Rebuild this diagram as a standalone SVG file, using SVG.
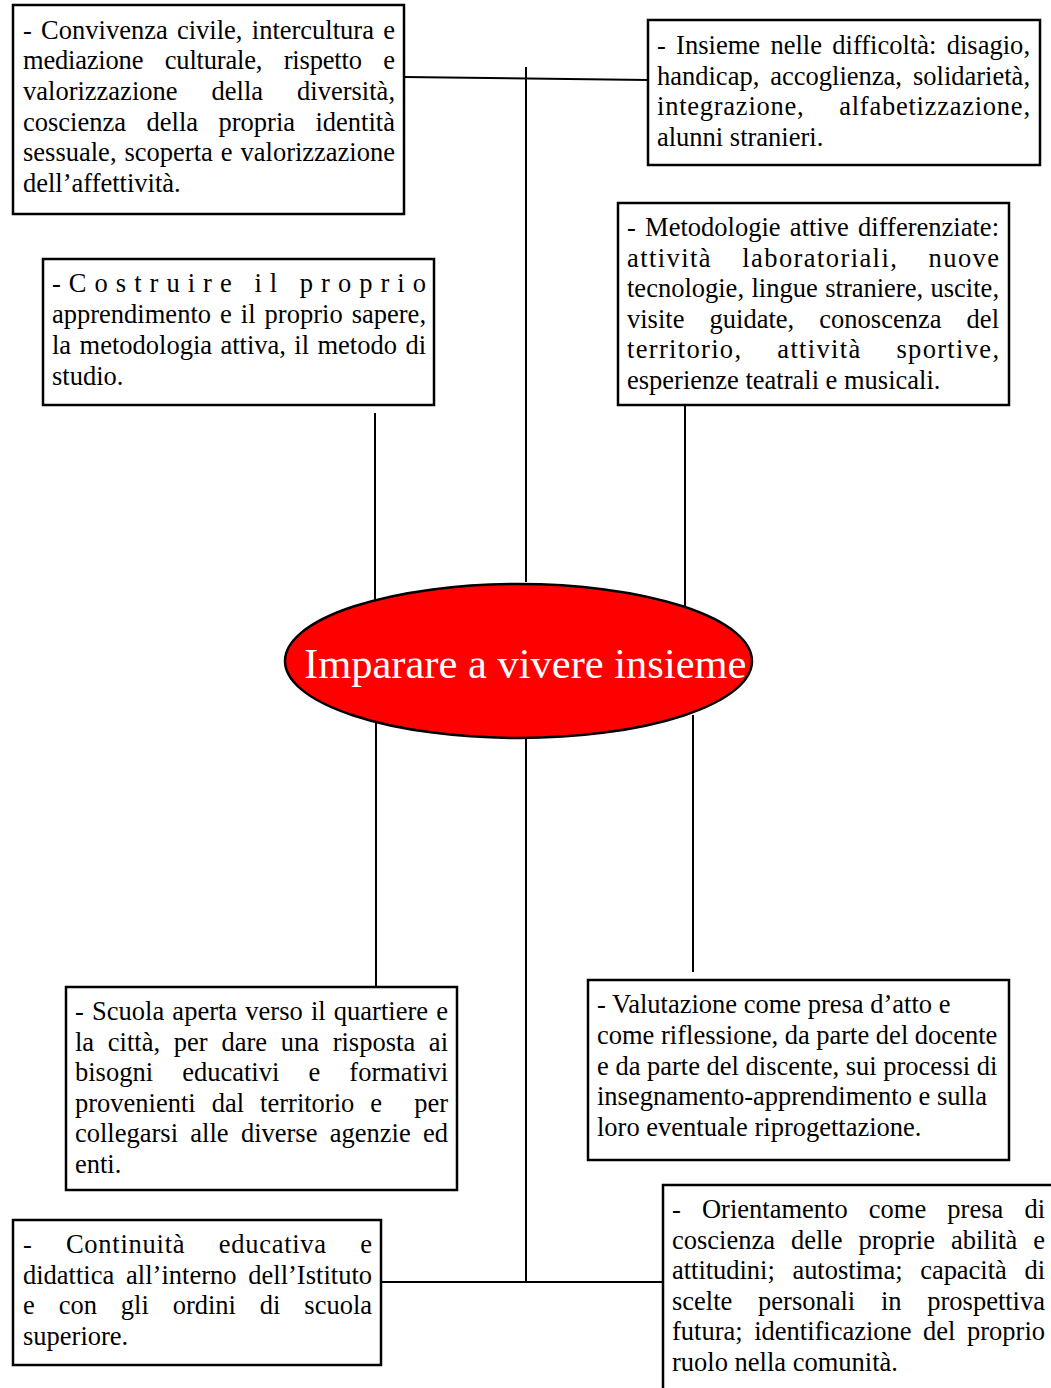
<svg xmlns="http://www.w3.org/2000/svg" width="1051" height="1388" viewBox="0 0 1051 1388">
<style>
.box{fill:#fff;stroke:#000;stroke-width:2.5}
.t{font-family:"Liberation Serif","Times New Roman",serif;font-size:26.5px;fill:#000}
.c{stroke:#000;stroke-width:2;fill:none}
.e{text-anchor:end}
</style>
<rect width="1051" height="1388" fill="#fff"/>
<g id="connectors">
<line class="c" x1="526" y1="67" x2="526" y2="582"/>
<line class="c" x1="404" y1="77" x2="648" y2="80"/>
<line class="c" x1="375" y1="413" x2="375" y2="602"/>
<line class="c" x1="685" y1="405" x2="685" y2="610"/>
<line class="c" x1="376" y1="715" x2="376" y2="987"/>
<line class="c" x1="526" y1="736" x2="526" y2="1282"/>
<line class="c" x1="693" y1="715" x2="693" y2="972"/>
<line class="c" x1="381" y1="1282" x2="663" y2="1282"/>
</g>
<g id="n-convivenza">
<rect class="box" x="13" y="5" width="391" height="209"/>
<text class="t" x="23" y="38.5" style="word-spacing:2.65px" textLength="372" lengthAdjust="spacing">- Convivenza civile, intercultura e</text>
<text class="t" x="23" y="69.2" style="word-spacing:15.1px" textLength="372" lengthAdjust="spacing">mediazione culturale, rispetto e</text>
<text class="t" x="23" y="99.9" style="word-spacing:27.4px" textLength="372" lengthAdjust="spacing">valorizzazione della diversità,</text>
<text class="t" x="23" y="130.6" style="word-spacing:13.8px" textLength="372" lengthAdjust="spacing">coscienza della propria identità</text>
<text class="t" x="23" y="161.3" style="word-spacing:1.35px" textLength="372" lengthAdjust="spacing">sessuale, scoperta e valorizzazione</text>
<text class="t" x="23" y="192">dell’affettività.</text>
</g>
<g id="n-insieme">
<rect class="box" x="648" y="20" width="392" height="145"/>
<text class="t" x="657" y="54" style="word-spacing:3.65px" textLength="373" lengthAdjust="spacing">- Insieme nelle difficoltà: disagio,</text>
<text class="t" x="657" y="84.7" style="word-spacing:4.4px" textLength="373" lengthAdjust="spacing">handicap, accoglienza, solidarietà,</text>
<text class="t" x="657" y="115.4" style="word-spacing:27.4px" textLength="373" lengthAdjust="spacing">integrazione, alfabetizzazione,</text>
<text class="t" x="657" y="146">alunni stranieri.</text>
</g>
<g id="n-costruire">
<rect class="box" x="43" y="259" width="391" height="146"/>
<text class="t" x="52" y="292" textLength="374" lengthAdjust="spacing">-Costruire il proprio</text>
<text class="t" x="52" y="323" style="word-spacing:2.4px" textLength="374" lengthAdjust="spacing">apprendimento e il proprio sapere,</text>
<text class="t" x="52" y="354" style="word-spacing:1.77px" textLength="374" lengthAdjust="spacing">la metodologia attiva, il metodo di</text>
<text class="t" x="52" y="385">studio.</text>
</g>
<g id="n-metodologie">
<rect class="box" x="618" y="203" width="391" height="202"/>
<text class="t" x="627" y="236" style="word-spacing:2.57px" textLength="372" lengthAdjust="spacing">- Metodologie attive differenziate:</text>
<text class="t" x="627" y="266.6" style="word-spacing:22.4px" textLength="372" lengthAdjust="spacing">attività laboratoriali, nuove</text>
<text class="t" x="627" y="297.2" style="word-spacing:0.85px" textLength="372" lengthAdjust="spacing">tecnologie, lingue straniere, uscite,</text>
<text class="t" x="627" y="327.8" style="word-spacing:18.5px" textLength="372" lengthAdjust="spacing">visite guidate, conoscenza del</text>
<text class="t" x="627" y="358.4" style="word-spacing:27px" textLength="372" lengthAdjust="spacing">territorio, attività sportive,</text>
<text class="t" x="627" y="389">esperienze teatrali e musicali.</text>
</g>
<g id="n-center">
<ellipse cx="518.5" cy="661" rx="233.5" ry="77" fill="#ff0000" stroke="#000" stroke-width="2.5"/>
<text x="304" y="678" font-family="Liberation Serif, Times New Roman, serif" font-size="42.5" fill="#fff">Imparare a vivere insieme</text>
</g>
<g id="n-scuola">
<rect class="box" x="66" y="987" width="391" height="203"/>
<text class="t" x="75" y="1020" style="word-spacing:1.57px" textLength="373" lengthAdjust="spacing">- Scuola aperta verso il quartiere e</text>
<text class="t" x="75" y="1050.6" style="word-spacing:7.1px" textLength="373" lengthAdjust="spacing">la città, per dare una risposta ai</text>
<text class="t" x="75" y="1081.2" style="word-spacing:22.5px" textLength="373" lengthAdjust="spacing">bisogni educativi e formativi</text>
<text class="t" x="75" y="1111.8" style="word-spacing:9.4px">provenienti dal territorio e</text>
<text class="t e" x="448" y="1111.8">per</text>
<text class="t" x="75" y="1142.4" style="word-spacing:5.7px" textLength="373" lengthAdjust="spacing">collegarsi alle diverse agenzie ed</text>
<text class="t" x="75" y="1173">enti.</text>
</g>
<g id="n-valutazione">
<rect class="box" x="588" y="980" width="421" height="180"/>
<text class="t" x="597" y="1013">- Valutazione come presa d’atto e</text>
<text class="t" x="597" y="1043.75">come riflessione, da parte del docente</text>
<text class="t" x="597" y="1074.5">e da parte del discente, sui processi di</text>
<text class="t" x="597" y="1105.25">insegnamento-apprendimento e sulla</text>
<text class="t" x="597" y="1136">loro eventuale riprogettazione.</text>
</g>
<g id="n-continuita">
<rect class="box" x="13" y="1220" width="368" height="145"/>
<text class="t" x="23" y="1253" style="word-spacing:26px" textLength="349" lengthAdjust="spacing">- Continuità educativa e</text>
<text class="t" x="23" y="1283.7" style="word-spacing:5.2px" textLength="349" lengthAdjust="spacing">didattica all’interno dell’Istituto</text>
<text class="t" x="23" y="1314.3" style="word-spacing:17.3px" textLength="349" lengthAdjust="spacing">e con gli ordini di scuola</text>
<text class="t" x="23" y="1345">superiore.</text>
</g>
<g id="n-orientamento">
<rect class="box" x="663" y="1185" width="420" height="250"/>
<text class="t" x="672" y="1218" style="word-spacing:14.5px" textLength="373" lengthAdjust="spacing">- Orientamento come presa di</text>
<text class="t" x="672" y="1248.6" style="word-spacing:9.4px" textLength="373" lengthAdjust="spacing">coscienza delle proprie abilità e</text>
<text class="t" x="672" y="1279.2" style="word-spacing:11.1px" textLength="373" lengthAdjust="spacing">attitudini; autostima; capacità di</text>
<text class="t" x="672" y="1309.8" style="word-spacing:19.1px" textLength="373" lengthAdjust="spacing">scelte personali in prospettiva</text>
<text class="t" x="672" y="1340.4" style="word-spacing:4.9px" textLength="373" lengthAdjust="spacing">futura; identificazione del proprio</text>
<text class="t" x="672" y="1371">ruolo nella comunità.</text>
</g>
</svg>
